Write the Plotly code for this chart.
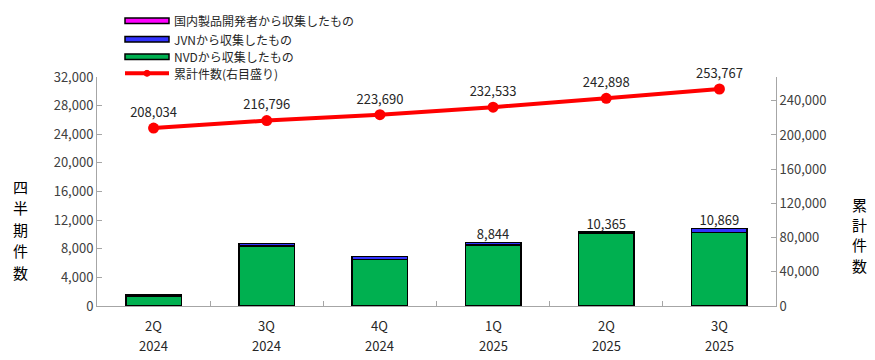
import plotly.graph_objects as go

quarters = ["2Q<br>2024", "3Q<br>2024", "4Q<br>2024", "1Q<br>2025", "2Q<br>2025", "3Q<br>2025"]
nvd = [1400, 8370, 6460, 8500, 10150, 10250]
jvn = [200, 390, 430, 340, 212, 615]
domestic = [2, 2, 4, 4, 3, 4]
cumulative = [208034, 216796, 223690, 232533, 242898, 253767]
bar_labels = ["", "", "", "8,844", "10,365", "10,869"]
legend_names = ["国内製品開発者から収集したもの", "JVNから収集したもの", "NVDから収集したもの", "累計件数(右目盛り)"]
legend_colors = ["#ff00ff", "#3333ff", "#00b050", "#ff0000"]
left_title = "四半期件数"
right_title = "累計件数"

FONT = "Noto Sans CJK JP"
totals = [a + b + c for a, b, c in zip(nvd, jvn, domestic)]

OFF = 8  # page body margin
W, H = 875 - OFF, 360 - OFF
# plot area in screen pixels: x 97..776, y 77..306
SL, SR, ST, SB = 97, 776, 77, 306
L, T = SL - OFF, ST - OFF
R = W - (SR - OFF)
B = H - (SB - OFF)
PW, PH = SR - SL, SB - ST


def px(xs):
    return (xs - SL) / PW


def py(ys):
    return (SB - ys) / PH


fig = go.Figure()
fig.add_trace(go.Bar(x=quarters, y=nvd, name=legend_names[2],
                     marker=dict(color=legend_colors[2], line=dict(color="black", width=1.4)),
                     width=0.49, showlegend=False))
fig.add_trace(go.Bar(x=quarters, y=jvn, name=legend_names[1],
                     marker=dict(color=legend_colors[1], line=dict(color="black", width=1.4)),
                     width=0.49, showlegend=False))
fig.add_trace(go.Bar(x=quarters, y=domestic, name=legend_names[0],
                     marker=dict(color=legend_colors[0], line=dict(color="black", width=1.4)),
                     width=0.49, showlegend=False))
fig.add_trace(go.Scatter(x=quarters, y=totals, mode="text", text=bar_labels,
                         textposition="top center", showlegend=False, cliponaxis=False,
                         textfont=dict(size=13, color="#262626", family=FONT),
                         hoverinfo="skip"))
fig.add_trace(go.Scatter(x=quarters, y=cumulative, name=legend_names[3], yaxis="y2",
                         mode="lines+markers+text", cliponaxis=False,
                         text=[f"{v:,}" for v in cumulative], textposition="top center",
                         textfont=dict(size=13, color="#262626", family=FONT),
                         line=dict(color="#ff0000", width=4),
                         marker=dict(color="#ff0000", size=11),
                         showlegend=False))

fig.update_layout(
    width=W, height=H,
    margin=dict(l=L, r=R, t=T, b=B, autoexpand=False),
    barmode="stack",
    plot_bgcolor="white", paper_bgcolor="white",
    font=dict(family=FONT, size=12, color="#404040"),
    showlegend=False,
    xaxis=dict(showline=True, linecolor="#a6a6a6", linewidth=1,
               ticks="inside", tickson="boundaries", ticklen=5, tickcolor="#a6a6a6",
               showticklabels=False),
    yaxis=dict(range=[0, 32000], dtick=4000, tickformat=",", showgrid=False,
               showline=True, linecolor="#a6a6a6", ticks="inside", ticklen=5,
               tickcolor="#a6a6a6", zeroline=False, tickfont=dict(size=13)),
    yaxis2=dict(range=[0, 267800], tickvals=[0, 40000, 80000, 120000, 160000, 200000, 240000],
                tickformat=",", overlaying="y", side="right", showgrid=False,
                showline=True, linecolor="#a6a6a6", ticks="inside", ticklen=5,
                tickcolor="#a6a6a6", zeroline=False, tickfont=dict(size=13)),
)

# category labels (two rows), placed at each category of the x axis
for q in quarters:
    top, bottom = q.split("<br>")
    for line_text, ys in ((top, 325), (bottom, 345)):
        fig.add_annotation(text=line_text, xref="x", yref="paper", x=q, y=py(ys),
                           xanchor="center", yanchor="middle", showarrow=False, borderpad=0,
                           font=dict(size=13, color="#262626", family=FONT))

# manual legend (wide swatches like the reference)
row_y = [20.8, 39.2, 56.8, 73.3]
for i, (name, col) in enumerate(zip(legend_names, legend_colors)):
    yc = row_y[i]
    if i < 3:
        fig.add_shape(type="rect", xref="paper", yref="paper",
                      x0=px(125), x1=px(169), y0=py(yc - 2.8), y1=py(yc + 2.8),
                      fillcolor=col, line=dict(color="black", width=1.5))
    else:
        fig.add_shape(type="line", xref="paper", yref="paper",
                      x0=px(125), x1=px(169), y0=py(yc), y1=py(yc),
                      line=dict(color=col, width=4))
        fig.add_shape(type="circle", xref="paper", yref="paper",
                      x0=px(144), x1=px(150), y0=py(yc - 3), y1=py(yc + 3),
                      fillcolor=col, line=dict(color=col, width=1))
    fig.add_annotation(text=name, xref="paper", yref="paper", x=px(172), y=py(yc),
                       xanchor="left", yanchor="middle", showarrow=False,
                       font=dict(size=12, color="#262626", family=FONT))

# vertical axis titles, one character per annotation
for k, ch in enumerate(left_title):
    fig.add_annotation(text=ch, xref="paper", yref="paper",
                       x=px(20), y=py(186 + 21.5 * k), xanchor="center", yanchor="middle",
                       showarrow=False, borderpad=0,
                       font=dict(size=15, color="black", family=FONT))
for k, ch in enumerate(right_title):
    fig.add_annotation(text=ch, xref="paper", yref="paper",
                       x=px(859), y=py(204 + 20.5 * k), xanchor="center", yanchor="middle",
                       showarrow=False, borderpad=0,
                       font=dict(size=15, color="black", family=FONT))

fig.write_html("out.html")
